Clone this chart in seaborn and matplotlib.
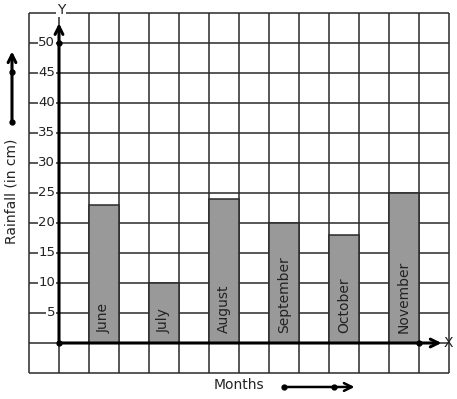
import matplotlib
matplotlib.use("Agg")
import matplotlib.pyplot as plt
import seaborn as sns
import numpy as np
import pandas as pd

months = ["June", "July", "August", "September", "October", "November"]
rainfall = [23, 10, 24, 20, 18, 25]
y_ticks = [5, 10, 15, 20, 25, 30, 35, 40, 45, 50]
x_label = "Months"
y_label = "Rainfall (in cm)"

sns.set_style("white")
plt.rcParams['font.family'] = ['DejaVu Sans']

W, H = 457, 399
fig = plt.figure(figsize=(W / 100, H / 100), dpi=100)
ax = fig.add_axes([0, 0, 1, 1])

# pixel mapping: px = 59 + 30*x ; py = 343 - 6*y
ax.set_xlim(-59 / 30, (W - 59) / 30)
ax.set_ylim((343 - H) / 6, 343 / 6)

gc = "#2a2a2a"
# grid
for gx in range(-1, 14):
    ax.plot([gx, gx], [-5, 55], color=gc, lw=1.1, zorder=1, solid_capstyle='butt')
for gy in range(-5, 60, 5):
    ax.plot([-1, 13], [gy, gy], color=gc, lw=1.1, zorder=1, solid_capstyle='butt')

positions = [1.5 + 2 * i for i in range(len(months))]
df = pd.DataFrame({"pos": positions, "rain": rainfall, "month": months})
sns.barplot(data=df, x="pos", y="rain", native_scale=True, width=0.5,
            color="#999999", saturation=1, edgecolor=gc, linewidth=1.1,
            ax=ax, zorder=2)
for p in ax.patches:
    p.set_zorder(2)

ax.set_xlim(-59 / 30, (W - 59) / 30)
ax.set_ylim((343 - H) / 6, 343 / 6)
ax.set_axis_off()

# bar labels
for xp, m in zip(positions, months):
    ax.text(xp, 1.6, m, rotation=90, ha='center', va='bottom', fontsize=10,
            color='#222222', zorder=5)

# axes with arrows
ax.annotate("", xy=(12.75, 0), xytext=(0, 0),
            arrowprops=dict(arrowstyle='->', lw=2.2, color='black',
                            mutation_scale=14, shrinkA=0, shrinkB=0), zorder=4)
ax.annotate("", xy=(0, 53.3), xytext=(0, 0),
            arrowprops=dict(arrowstyle='->', lw=2.2, color='black',
                            mutation_scale=14, shrinkA=0, shrinkB=0), zorder=4)
ax.plot([0, 0, 12], [0, 50, 0], 'o', color='black', ms=3.5, zorder=6)
ax.text(12.83, 0, "X", ha='left', va='center', fontsize=10, color='#222222', zorder=5)
ax.text(0.07, 55.5, "Y", ha='center', va='center', fontsize=10, color='#222222',
        zorder=5, bbox=dict(facecolor='white', edgecolor='none', pad=0.3))

# tick labels
for t in y_ticks:
    ax.text(-0.13, t, str(t), ha='right', va='center', fontsize=9.5,
            color='#222222', zorder=5,
            bbox=dict(facecolor='white', edgecolor='none', pad=0.4))

# left arrow and label
ax.annotate("", xy=(-1.567, 48.6), xytext=(-1.567, 36.8),
            arrowprops=dict(arrowstyle='->', lw=2.2, color='black',
                            mutation_scale=14, shrinkA=0, shrinkB=0), zorder=4)
ax.plot([-1.567, -1.567], [36.8, 45.2], 'o', color='black', ms=3.5, zorder=6)
ax.text(-1.567, (343 - 191) / 6, y_label, rotation=90, ha='center', va='center',
        fontsize=10, color='#222222')

# bottom label and arrow
ax.text((239 - 59) / 30, (343 - 385) / 6, x_label, ha='center', va='center',
        fontsize=10, color='#222222')
ax.annotate("", xy=(9.85, -7.33), xytext=(7.5, -7.33),
            arrowprops=dict(arrowstyle='->', lw=1.8, color='black',
                            mutation_scale=14, shrinkA=0, shrinkB=0), zorder=4)
ax.plot([7.5, 9.17], [-7.33, -7.33], 'o', color='black', ms=3.5, zorder=6)

fig.savefig("out.png", dpi=100)
